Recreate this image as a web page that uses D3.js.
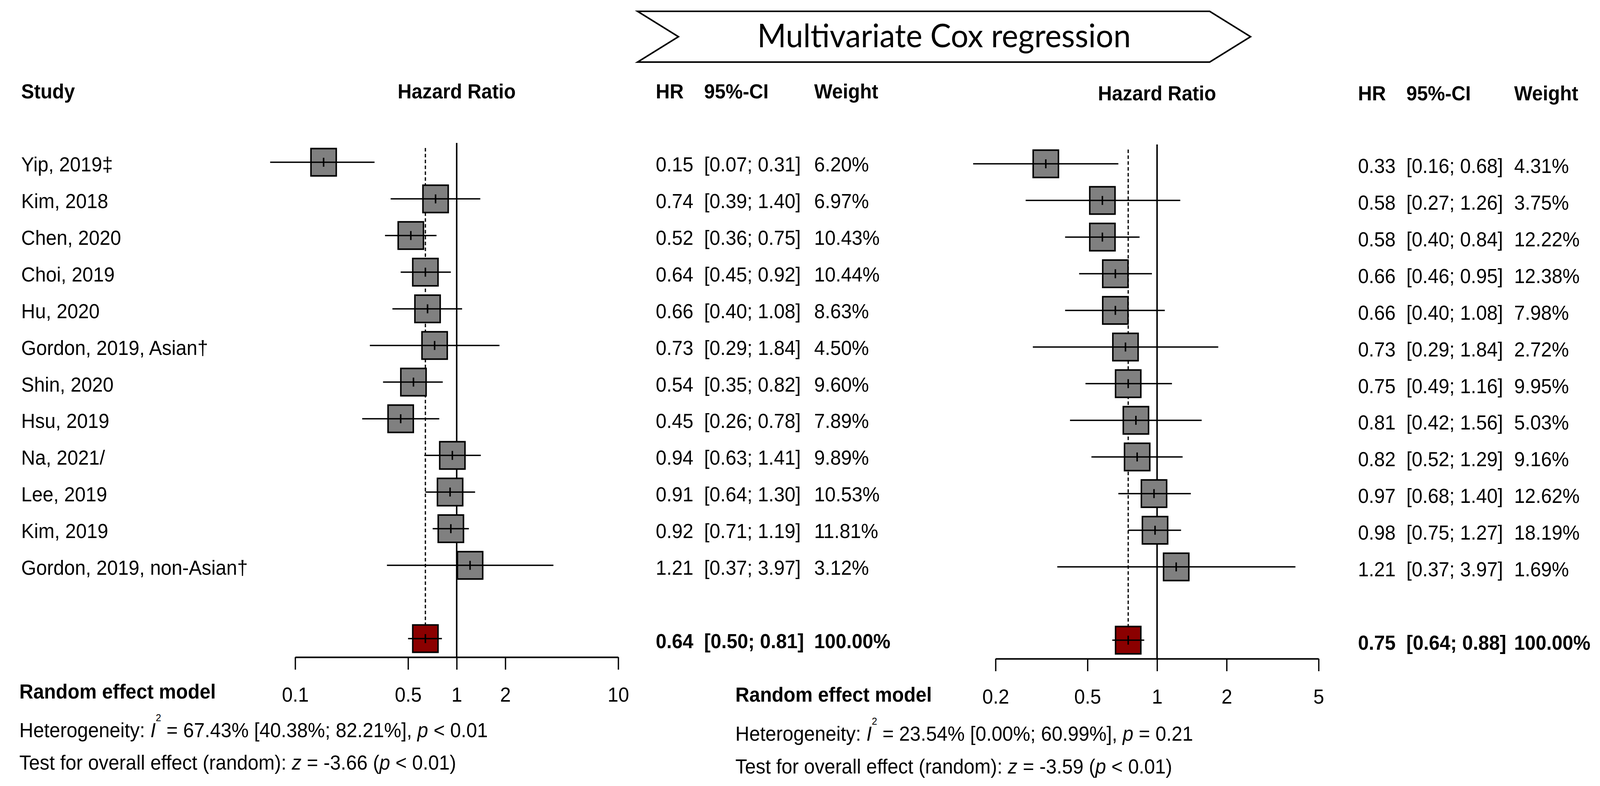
<!DOCTYPE html>
<html><head><meta charset="utf-8">
<script src="https://cdn.jsdelivr.net/npm/d3@7"></script>
<style>
html,body{margin:0;padding:0;background:#fff;overflow:hidden;width:100%;height:100%;}
svg{display:block;width:100vw;height:100vh;}
text{font-family:"Liberation Sans",Arial,sans-serif;white-space:pre;fill:#000;}
</style>
</head><body>
<svg id="chart" viewBox="0 0 4304 2013" preserveAspectRatio="none"></svg>
<script>
// ---------- data ----------
const title = "Multivariate Cox regression";
const studies = ["Yip, 2019\u2021","Kim, 2018","Chen, 2020","Choi, 2019","Hu, 2020","Gordon, 2019, Asian\u2020","Shin, 2020","Hsu, 2019","Na, 2021/","Lee, 2019","Kim, 2019","Gordon, 2019, non-Asian\u2020"];
const hrA = [0.15,0.74,0.52,0.64,0.66,0.73,0.54,0.45,0.94,0.91,0.92,1.21];
const loA = [0.07,0.39,0.36,0.45,0.40,0.29,0.35,0.26,0.63,0.64,0.71,0.37];
const hiA = [0.31,1.40,0.75,0.92,1.08,1.84,0.82,0.78,1.41,1.30,1.19,3.97];
const wA  = [6.20,6.97,10.43,10.44,8.63,4.50,9.60,7.89,9.89,10.53,11.81,3.12];
const sumA = [0.64,0.50,0.81,100.00];
const hrB = [0.33,0.58,0.58,0.66,0.66,0.73,0.75,0.81,0.82,0.97,0.98,1.21];
const loB = [0.16,0.27,0.40,0.46,0.40,0.29,0.49,0.42,0.52,0.68,0.75,0.37];
const hiB = [0.68,1.26,0.84,0.95,1.08,1.84,1.16,1.56,1.29,1.40,1.27,3.97];
const wB  = [4.31,3.75,12.22,12.38,7.98,2.72,9.95,5.03,9.16,12.62,18.19,1.69];
const sumB = [0.75,0.64,0.88,100.00];
const ticksA = [0.1,0.5,1,2,10];
const tickLabelsA = ["0.1","0.5","1","2","10"];
const ticksB = [0.2,0.5,1,2,5];
const tickLabelsB = ["0.2","0.5","1","2","5"];
const headers = ["Study","Hazard Ratio","HR","95%-CI","Weight"];
const modelLabel = "Random effect model";
const hetA = ["67.43%","[40.38%; 82.21%]","< 0.01"];
const testA = ["-3.66","< 0.01"];
const hetB = ["23.54%","[0.00%; 60.99%]","= 0.21"];
const testB = ["-3.59","< 0.01"];

// ---------- layout ----------
const svg = d3.select("#chart");
const FS = 52;
const panels = [
  {hr:hrA, lo:loA, hi:hiA, w:wA, sum:sumA, ticks:ticksA, labels:tickLabelsA, het:hetA, test:testA,
   x0:794, x1:1663, rowTop:415.5, axisY:1683, tickLabY:1797, headY:252,
   hrX:1764, ciX:1894, wX:2190, remX:52, remY:1789, hetY:1888, testY:1971, names:true},
  {hr:hrB, lo:loB, hi:hiB, w:wB, sum:sumB, ticks:ticksB, labels:tickLabelsB, het:hetB, test:testB,
   x0:2678, x1:3547, rowTop:419.5, axisY:1687, tickLabY:1802, headY:257,
   hrX:3653, ciX:3783, wX:4073, remX:1978, remY:1797, hetY:1897, testY:1981, names:false}
];
const rowStep = 93.85;
const boxW = 68, boxH = 70;
const fmt = d3.format(".2f");

// ---------- banner ----------
const bx0=1715, bx1=3254, bxTip=3364, bNotch=1825, by0=29, by1=159, bym=94;
svg.append("polygon")
  .attr("points", [[bx0,by0],[bx1,by0],[bxTip,bym],[bx1,by1],[bx0,by1],[bNotch,bym]].map(p=>p.join(",")).join(" "))
  .attr("fill","#fff").attr("stroke","#000").attr("stroke-width",4).attr("stroke-linejoin","miter");
const tt = svg.append("text").attr("x",(bx0+bxTip)/2).attr("y",121).attr("text-anchor","middle")
  .style("font-family","Lato, 'Open Sans', sans-serif").attr("font-size",77).text(title);
const tl = tt.node().getComputedTextLength();
tt.attr("font-size", Math.max(68, Math.min(88, 77*1005/tl)));

panels.forEach(P => {
  const x = d3.scaleLog().domain([P.ticks[0], P.ticks[P.ticks.length-1]]).range([P.x0, P.x1]);
  const y = d3.scaleLinear().domain([0,13]).range([P.rowTop, P.rowTop + 13*rowStep]);
  const g = svg.append("g");
  const n = P.hr.length;

  // headers
  if (P.names) g.append("text").attr("x",57).attr("y",P.headY).attr("font-size",FS).attr("font-weight","bold").text(headers[0]);
  g.append("text").attr("x",x(1)).attr("y",P.headY).attr("text-anchor","middle").attr("font-size",FS).attr("font-weight","bold").text(headers[1]);
  g.append("text").attr("x",P.hrX).attr("y",P.headY).attr("font-size",FS).attr("font-weight","bold").text(headers[2]);
  g.append("text").attr("x",P.ciX).attr("y",P.headY).attr("font-size",FS).attr("font-weight","bold").text(headers[3]);
  g.append("text").attr("x",P.wX).attr("y",P.headY).attr("font-size",FS).attr("font-weight","bold").text(headers[4]);

  // reference lines
  g.append("line").attr("x1",x(1)).attr("x2",x(1)).attr("y1",y(0)-49.5).attr("y2",P.axisY)
    .attr("stroke","#000").attr("stroke-width",4);
  g.append("line").attr("x1",x(P.sum[0])).attr("x2",x(P.sum[0])).attr("y1",y(0)-36.5).attr("y2",y(13)-boxH/2)
    .attr("stroke","#000").attr("stroke-width",3.3).attr("stroke-dasharray","9,6");

  // study rows
  const rows = d3.range(n).map(i => ({i, hr:P.hr[i], lo:P.lo[i], hi:P.hi[i], w:P.w[i], yy:y(i), sum:false}));
  rows.push({i:13, hr:P.sum[0], lo:P.sum[1], hi:P.sum[2], w:P.sum[3], yy:y(13), sum:true});

  const rg = g.selectAll("g.row").data(rows).join("g").attr("class","row");
  rg.append("rect")
    .attr("x",d=>x(d.hr)-boxW/2).attr("y",d=>d.yy-boxH/2).attr("width",boxW).attr("height",boxH)
    .attr("fill",d=>d.sum?"#8B0000":"#808080").attr("stroke","#000").attr("stroke-width",4);
  rg.append("line").attr("x1",d=>x(d.lo)).attr("x2",d=>x(d.hi)).attr("y1",d=>d.yy).attr("y2",d=>d.yy)
    .attr("stroke","#000").attr("stroke-width",3.5);
  rg.append("line").attr("x1",d=>x(d.hr)).attr("x2",d=>x(d.hr)).attr("y1",d=>d.yy-11.5).attr("y2",d=>d.yy+11.5)
    .attr("stroke","#000").attr("stroke-width",4);

  // text columns
  if (P.names) rg.filter(d=>!d.sum).append("text").attr("x",57).attr("y",d=>d.yy+24).attr("font-size",FS).text(d=>studies[d.i]);
  rg.append("text").attr("x",P.hrX).attr("y",d=>d.yy+24).attr("font-size",FS).attr("font-weight",d=>d.sum?"bold":null).text(d=>fmt(d.hr));
  rg.append("text").attr("x",P.ciX).attr("y",d=>d.yy+24).attr("font-size",FS).attr("font-weight",d=>d.sum?"bold":null).text(d=>"["+fmt(d.lo)+"; "+fmt(d.hi)+"]");
  rg.append("text").attr("x",P.wX).attr("y",d=>d.yy+24).attr("font-size",FS).attr("font-weight",d=>d.sum?"bold":null).text(d=>fmt(d.w)+"%");

  // axis
  const ax = g.append("g").attr("transform",`translate(0,${P.axisY})`)
    .call(d3.axisBottom(x).tickValues(P.ticks).tickFormat((d,i)=>P.labels[i]).tickSize(32).tickSizeOuter(0));
  ax.select(".domain").attr("stroke","#000").attr("stroke-width",4);
  ax.selectAll(".tick line").attr("stroke","#000").attr("stroke-width",3.5);
  ax.selectAll(".tick text").attr("y",P.tickLabY-P.axisY).attr("dy",0).attr("fill","#000")
    .style("font-family","'Liberation Sans', Arial, sans-serif").style("font-size",FS+"px");
  ax.attr("font-family",null).attr("font-size",null);

  // model label + statistics
  g.append("text").attr("x",P.remX).attr("y",P.remY).attr("font-size",FS).attr("font-weight","bold").text(modelLabel);
  const h = g.append("text").attr("x",P.remX).attr("y",P.hetY).attr("font-size",FS);
  h.append("tspan").text("Heterogeneity: ");
  h.append("tspan").attr("font-style","italic").text("I");
  h.append("tspan").attr("font-size",26).attr("dy",-41).text("2");
  h.append("tspan").attr("dy",41).text(" = " + P.het[0] + " " + P.het[1] + ", ");
  h.append("tspan").attr("font-style","italic").text("p");
  h.append("tspan").text(" " + P.het[2]);
  const t = g.append("text").attr("x",P.remX).attr("y",P.testY).attr("font-size",FS);
  t.append("tspan").text("Test for overall effect (random): ");
  t.append("tspan").attr("font-style","italic").text("z");
  t.append("tspan").text(" = " + P.test[0] + " (");
  t.append("tspan").attr("font-style","italic").text("p");
  t.append("tspan").text(" " + P.test[1] + ")");
});
</script>
</body></html>
